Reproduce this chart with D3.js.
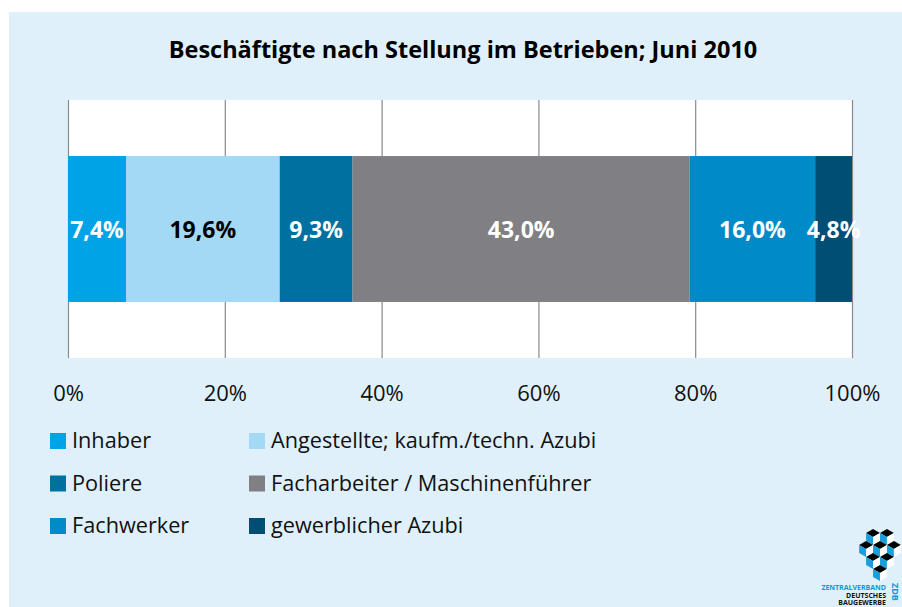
<!DOCTYPE html>
<html>
<head>
<meta charset="utf-8">
<script src="https://cdn.jsdelivr.net/npm/d3@7"></script>
<style>
  body { margin: 0; background: #fff; }
  text { font-family: 'Open Sans', sans-serif; }
</style>
</head>
<body>
<script>
const categories = ['Inhaber', 'Angestellte; kaufm./techn. Azubi', 'Poliere',
  'Facharbeiter / Maschinenführer', 'Fachwerker', 'gewerblicher Azubi']
const values = [7.4, 19.6, 9.3, 43.0, 16.0, 4.8]
const colors = ['#00a3e6', '#a3d9f5', '#0070a1', '#807f84', '#008bc8', '#004e74']
const labelColors = ['#fff', '#000', '#fff', '#fff', '#fff', '#fff']
const ticks = [0, 20, 40, 60, 80, 100]

const W = 902, H = 607
const fmt = v => d3.format('.1f')(v).replace('.', ',') + '%'

let svg = d3.select('body')
  .append('svg')
  .attr('width', W)
  .attr('height', H)

svg.append('rect')
  .attr('x', 9).attr('y', 12)
  .attr('width', W - 9).attr('height', H - 12)
  .attr('fill', '#dff0fa')

svg.append('text')
  .attr('x', 463).attr('y', 58)
  .attr('text-anchor', 'middle')
  .style('font-weight', 'bold')
  .style('font-size', '23.5px')
  .text('Beschäftigte nach Stellung im Betrieben; Juni 2010')

let x = d3.scaleLinear().domain([0, 100]).range([68, 852])
let y = d3.scaleBand().domain(['Juni 2010']).range([100, 358]).paddingInner(0).paddingOuter(0.384)

svg.append('rect')
  .attr('x', x(0)).attr('y', 100)
  .attr('width', x(100) - x(0)).attr('height', 258)
  .attr('fill', '#fff')

svg.append('g')
  .selectAll('line')
  .data(ticks)
  .join('line')
  .attr('x1', d => x(d) + 0.5).attr('x2', d => x(d) + 0.5)
  .attr('y1', 100).attr('y2', 358)
  .attr('stroke', '#8a8a8a')
  .attr('stroke-width', 1.2)

let stack = []
let acc = 0
values.forEach((v, i) => { stack.push({ cat: categories[i], v, x0: acc, x1: acc + v, i }); acc += v })

svg.append('g')
  .selectAll('rect')
  .data(stack)
  .join('rect')
  .attr('x', d => x(d.x0))
  .attr('y', y('Juni 2010'))
  .attr('width', d => x(Math.min(d.x1, 100)) - x(d.x0))
  .attr('height', y.bandwidth())
  .attr('fill', d => colors[d.i])

svg.append('g')
  .selectAll('text')
  .data(stack)
  .join('text')
  .attr('x', d => (x(d.x0) + x(Math.min(d.x1, 100))) / 2)
  .attr('y', y('Juni 2010') + y.bandwidth() / 2 + 9)
  .attr('text-anchor', 'middle')
  .style('font-weight', 'bold')
  .style('font-size', '23px')
  .attr('fill', d => labelColors[d.i])
  .text(d => fmt(d.v))

// axis
let axis = svg.append('g')
  .attr('transform', 'translate(0,358)')
  .call(d3.axisBottom(x).tickValues(ticks).tickFormat(d => d + '%').tickSize(0).tickPadding(27))
axis.select('.domain').remove()
axis.selectAll('text')
  .style('font-family', "'Open Sans', sans-serif")
  .style('font-size', '22px')
  .attr('fill', '#111')

// legend
let legend = svg.append('g')
  .selectAll('g')
  .data(categories)
  .join('g')
  .attr('transform', (d, i) => `translate(${i % 2 === 0 ? 50 : 249},${433 + Math.floor(i / 2) * 42.5})`)

legend.append('rect')
  .attr('width', 16).attr('height', 16)
  .attr('fill', (d, i) => colors[i])

legend.append('text')
  .attr('x', 22).attr('y', 15)
  .style('font-size', '21.7px')
  .attr('fill', '#111')
  .text(d => d)

// logo
let logo = svg.append('g').attr('transform', 'translate(880,561)')
const s = 8
const cubes = [[-0.5, -2], [0.5, -2], [-1, -1], [0, -1], [1, -1], [-0.5, 0], [0.5, 0], [0, 1]]
cubes.forEach(([cx, cy]) => {
  let px = cx * 2 * s * 0.87, py = cy * 1.5 * s
  let g = logo.append('g').attr('transform', `translate(${px},${py})`)
  let h = s * 0.87
  g.append('path').attr('d', `M0,${-s} L${h},${-s / 2} L0,0 L${-h},${-s / 2}Z`).attr('fill', '#000')
  g.append('path').attr('d', `M${-h},${-s / 2} L0,0 L0,${s} L${-h},${s / 2}Z`).attr('fill', '#19a0dc')
  g.append('path').attr('d', `M${h},${-s / 2} L0,0 L0,${s} L${h},${s / 2}Z`).attr('fill', '#fff')
})
let logoText = [['ZENTRALVERBAND', '#0a9ad8', 590], ['DEUTSCHES', '#111', 597.5], ['BAUGEWERBE', '#111', 605]]
svg.append('g')
  .selectAll('text')
  .data(logoText)
  .join('text')
  .attr('x', 886).attr('y', d => d[2])
  .attr('text-anchor', 'end')
  .style('font-size', '7px')
  .style('font-weight', 'bold')
  .attr('fill', d => d[1])
  .text(d => d[0])
svg.append('text')
  .attr('transform', 'translate(892,583) rotate(90)')
  .style('font-size', '9px')
  .style('font-weight', 'bold')
  .attr('fill', '#0a9ad8')
  .text('ZDB')
</script>
</body>
</html>
